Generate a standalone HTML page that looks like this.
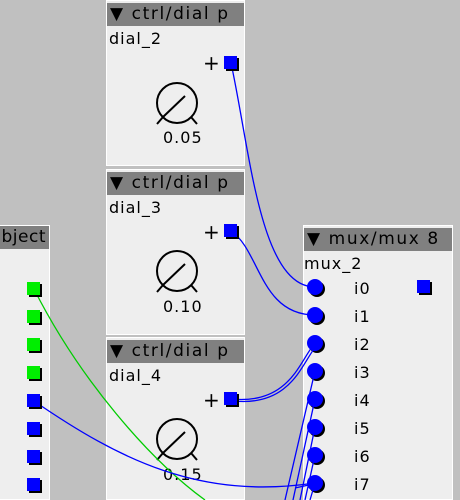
<!DOCTYPE html>
<html style="overflow:hidden;height:500px"><head><style>
body{margin:0;width:460px;height:500px;background:#c0c0c0;position:relative;overflow:hidden;font-family:"DejaVu Sans","Liberation Sans",sans-serif;}
.p{position:absolute;background:#eee;border:1px solid #fff;box-sizing:border-box;}
.h{position:absolute;left:0;right:0;top:0;height:23px;background:#808080;color:#000;font-size:17px;line-height:23px;padding-left:3px;white-space:nowrap;overflow:hidden;letter-spacing:1.6px;}
.t{position:absolute;font-size:16px;color:#000;white-space:nowrap;letter-spacing:1px;}
.port{position:absolute;width:13px;height:13px;box-shadow:2px 2px 0 #000;}
</style></head><body>
<div class="p" style="left:-10px;top:225px;width:60px;height:275px"><div class="h" style="text-align:right;padding-right:3px;letter-spacing:0.5px">bject</div></div>
<div class="p" style="left:106px;top:0;width:139px;height:166px"><div class="h" style="top:2px">▼ ctrl/dial p</div><div class="t" style="left:2px;top:28px">dial_2</div><div class="t" style="left:96px;top:50px;font-size:20px">+</div><div class="t" style="left:56px;top:127px">0.05</div></div>
<div class="p" style="left:106px;top:169px;width:139px;height:166px"><div class="h" style="top:2px">▼ ctrl/dial p</div><div class="t" style="left:2px;top:28px">dial_3</div><div class="t" style="left:96px;top:50px;font-size:20px">+</div><div class="t" style="left:56px;top:127px">0.10</div></div>
<div class="p" style="left:106px;top:337px;width:139px;height:163px"><div class="h" style="top:2px">▼ ctrl/dial p</div><div class="t" style="left:2px;top:28px">dial_4</div><div class="t" style="left:96px;top:50px;font-size:20px">+</div><div class="t" style="left:56px;top:127px">0.15</div></div>
<div class="p" style="left:303px;top:225px;width:150px;height:275px"><div class="h" style="top:2px">▼ mux/mux 8</div><div class="t" style="left:0;top:28px">mux_2</div>
<div class="t" style="left:50px;top:53px">i0</div><div class="t" style="left:50px;top:81px">i1</div><div class="t" style="left:50px;top:109px">i2</div><div class="t" style="left:50px;top:137px">i3</div><div class="t" style="left:50px;top:165px">i4</div><div class="t" style="left:50px;top:193px">i5</div><div class="t" style="left:50px;top:221px">i6</div><div class="t" style="left:50px;top:249px">i7</div></div>
<svg width="460" height="500" style="position:absolute;left:0;top:0">
<g fill="none" stroke="#000" stroke-width="2">
<circle cx="177" cy="103" r="20"/><line x1="163" y1="117" x2="185" y2="96"/><line x1="157" y1="124" x2="163" y2="117"/><line x1="197" y1="124" x2="191" y2="117"/>
<circle cx="177" cy="271" r="20"/><line x1="163" y1="285" x2="185" y2="264"/><line x1="157" y1="292" x2="163" y2="285"/><line x1="197" y1="292" x2="191" y2="285"/>
<circle cx="177" cy="439" r="20"/><line x1="163" y1="453" x2="185" y2="432"/><line x1="157" y1="460" x2="163" y2="453"/><line x1="197" y1="460" x2="191" y2="453"/>
</g>
<g fill="#00f">
<g id="c"><circle cx="317" cy="289" r="8" fill="#000"/><circle cx="315" cy="287" r="8"/></g>
<use href="#c" y="28"/><use href="#c" y="56"/><use href="#c" y="84"/><use href="#c" y="112"/><use href="#c" y="140"/><use href="#c" y="168"/><use href="#c" y="196"/>
</g>
<g fill="none" stroke-width="1.3">
<path d="M231 63 C250 150 260 287 315 287" stroke="#00f"/>
<path d="M231 231 C260 250 260 315 315 315" stroke="#00f"/>
<path d="M231 399 C290 405 300 360 315 343" stroke="#00f"/>
<path d="M233 401 C292 407 302 362 317 345" stroke="#00f"/>
<path d="M34 289 C80 380 150 460 205 500" stroke="#0c0"/>
<path d="M34 401 C120 460 200 500 315 483" stroke="#00f"/>
<path d="M315 371 L285 500 M315 399 L293 500 M315 427 L300 500 M315 455 L305 500 M315 483 L310 500 M295 488 L318 483" stroke="#00f"/>
</g>
</svg>
<div class="port" style="left:224px;top:56px;background:#00f"></div>
<div class="port" style="left:224px;top:224px;background:#00f"></div>
<div class="port" style="left:224px;top:392px;background:#00f"></div>
<div class="port" style="left:417px;top:280px;background:#00f"></div>
<div class="port" style="left:27px;top:282px;background:#0e0"></div>
<div class="port" style="left:27px;top:310px;background:#0e0"></div>
<div class="port" style="left:27px;top:338px;background:#0e0"></div>
<div class="port" style="left:27px;top:366px;background:#0e0"></div>
<div class="port" style="left:27px;top:394px;background:#00f"></div>
<div class="port" style="left:27px;top:422px;background:#00f"></div>
<div class="port" style="left:27px;top:450px;background:#00f"></div>
<div class="port" style="left:27px;top:478px;background:#00f"></div>
</body></html>
